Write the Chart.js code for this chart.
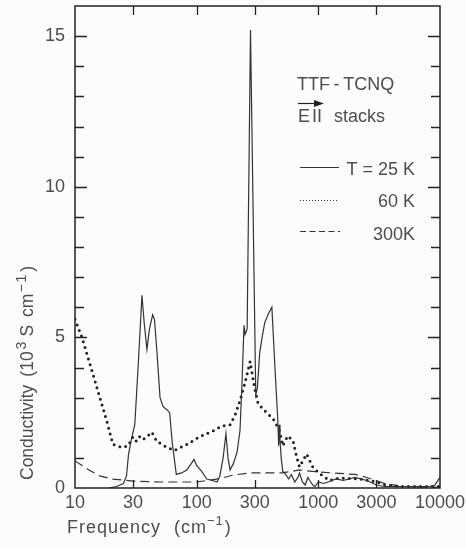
<!DOCTYPE html>
<html>
<head>
<meta charset="utf-8">
<title>TTF-TCNQ conductivity</title>
<script src="https://cdn.jsdelivr.net/npm/chart.js@4/dist/chart.umd.min.js"></script>
<style>
  html, body { margin: 0; padding: 0; background: #fcfcfc; }
  #wrap { width: 466px; height: 548px; }
</style>
</head>
<body>
<div id="wrap"><canvas id="chart" width="466" height="548"></canvas></div>
<script>
/*
  Optical conductivity of TTF-TCNQ, E parallel to the stacks,
  at three temperatures, on a log frequency axis.
*/

// ---- data (frequency in cm-1, conductivity in 10^3 S/cm) ----
const xTicks = [10, 30, 100, 300, 1000, 3000, 10000];
const yTicks = [0, 5, 10, 15];

const freq25 = [19, 22, 25, 26.5, 27.5, 29, 31, 33, 35.5, 37, 39, 41, 43.5, 45, 47, 50, 53, 57, 60, 63,
  68, 75, 83, 90, 95, 100, 110, 121, 135, 147, 155, 165, 174, 181, 188, 200, 215, 227, 236, 245,
  250, 256, 260, 277, 306, 315, 330, 345, 363, 390, 415, 440, 465, 472, 478, 484, 495, 510, 540, 570,
  600, 640, 680, 700, 740, 780, 820, 850, 900, 940, 1000, 1100, 1200, 1400, 1600, 2000, 2500, 3000, 3500, 5000,
  8000, 9000, 10000];
const cond25 = [0, 0.05, 0.15, 0.4, 1.1, 1.6, 2.1, 4.0, 6.4, 5.5, 4.6, 5.3, 5.75, 5.6, 4.6, 3.0, 2.7, 2.6, 2.5, 1.5,
  0.45, 0.5, 0.6, 0.8, 0.95, 0.75, 0.55, 0.3, 0.25, 0.2, 0.4, 1.0, 1.8, 1.0, 0.6, 0.8, 1.2, 1.9, 3.5, 5.4,
  5.1, 5.2, 5.3, 15.2, 3.1, 3.3, 4.5, 5.0, 5.5, 5.8, 6.0, 4.0, 2.2, 1.4, 2.1, 1.6, 1.0, 0.55, 0.45, 0.3,
  0.45, 0.2, 0.35, 0.5, 0.2, 0.1, 0.35, 0.25, 0.1, 0.05, 0.2, 0.15, 0.2, 0.3, 0.25, 0.35, 0.25, 0.1, 0.05, 0.05,
  0.05, 0.08, 0.35];

const freq60 = [10, 11.4, 13.3, 16, 18.3, 20.5, 24.3, 27.3, 30, 32, 34, 36, 39, 42.8, 47, 57, 66, 83, 106, 137,
  160, 188, 206, 227, 250, 275, 300, 320, 376, 425, 480, 510, 560, 620, 660, 700, 800, 900, 1030, 1230,
  1500, 2200, 2800, 3600, 4500, 10000];
const cond60 = [5.6, 5.0, 4.1, 3.0, 2.2, 1.45, 1.35, 1.4, 1.7, 1.55, 1.7, 1.6, 1.7, 1.85, 1.55, 1.35, 1.25, 1.45, 1.7, 1.9,
  2.05, 2.1, 2.4, 2.9, 3.5, 4.2, 3.3, 2.8, 2.5, 2.3, 1.9, 1.4, 1.73, 1.57, 1.07, 0.7, 1.13, 0.7, 0.47, 0.25,
  0.33, 0.3, 0.23, 0.1, 0.05, 0.05];

const freq300 = [10, 13, 16, 20, 30, 50, 100, 150, 200, 275, 400, 500, 600, 700, 900, 1300, 2000, 2500, 3500, 5000, 10000];
const cond300 = [0.9, 0.6, 0.4, 0.3, 0.23, 0.2, 0.2, 0.3, 0.43, 0.5, 0.5, 0.5, 0.55, 0.6, 0.55, 0.5, 0.45, 0.35, 0.15, 0.05, 0.02];

const INK = '#333';
const TEXT = '#4d4d4d';
const FONT = '"Liberation Sans", Arial, sans-serif';

function toPoints(xs, ys) {
  return xs.map((x, i) => ({ x: x, y: ys[i] }));
}

// draws a run of text pieces; [text, isSuperscript, extraGapAfter]
function drawRich(ctx, x, y, parts, size, supSize) {
  let cx = x;
  parts.forEach(([txt, sup, gap]) => {
    ctx.font = (sup ? supSize : size) + 'px ' + FONT;
    ctx.fillText(txt, cx, sup ? y - size * 0.42 : y);
    cx += ctx.measureText(txt).width + (gap || 0);
  });
}

/* -----------------------------
   Frame, inward ticks, titles, legend
------------------------------ */
const decorPlugin = {
  id: 'decor',
  afterDraw(chart) {
    const { ctx, chartArea: ca, scales } = chart;
    const xs = scales.x, ys = scales.y;
    ctx.save();

    // box around the plot
    ctx.strokeStyle = '#222';
    ctx.lineWidth = 1.5;
    ctx.strokeRect(ca.left, ca.top, ca.right - ca.left, ca.bottom - ca.top);

    // y ticks on both sides, every unit, longer at labelled values
    ctx.lineWidth = 1.3;
    for (let v = 1; v < 16; v++) {
      const py = Math.round(ys.getPixelForValue(v)) + 0.5;
      const len = v % 5 === 0 ? 12 : 9;
      ctx.beginPath();
      ctx.moveTo(ca.left, py); ctx.lineTo(ca.left + len, py);
      ctx.moveTo(ca.right, py); ctx.lineTo(ca.right - len, py);
      ctx.stroke();
    }
    // x ticks top and bottom
    xTicks.slice(1, -1).forEach(v => {
      const px = Math.round(xs.getPixelForValue(v)) + 0.5;
      ctx.beginPath();
      ctx.moveTo(px, ca.top); ctx.lineTo(px, ca.top + 9);
      ctx.moveTo(px, ca.bottom); ctx.lineTo(px, ca.bottom - 8);
      ctx.stroke();
    });

    // axis titles
    ctx.fillStyle = TEXT;
    ctx.textAlign = 'left';
    ctx.textBaseline = 'alphabetic';
    ctx.letterSpacing = '1px';
    drawRich(ctx, 67, 533, [['Frequency', false, 13], ['(cm', false, 0], ['\u22121', true, 1], [')', false]], 18, 13);
    ctx.letterSpacing = '0px';

    ctx.save();
    ctx.translate(33, 480);
    ctx.rotate(-Math.PI / 2);
    drawRich(ctx, 0, 0, [['Conductivity', false, 8], ['(10', false, 2], ['3', true, 5], ['S', false, 8],
      ['cm', false, 1], ['\u2212', true, 2], ['1', true, 3], [')', false]], 17.5, 14);
    ctx.restore();

    // sample label and field direction
    ctx.font = '18px ' + FONT;
    ctx.fillText('TTF\u2009-\u2009TCNQ', 297, 90);
    ctx.fillText('E', 298, 122);
    ctx.fillText('II', 312, 122);
    ctx.fillText('stacks', 334, 122);
    ctx.strokeStyle = '#222';
    ctx.fillStyle = '#222';
    ctx.lineWidth = 1.2;
    ctx.beginPath();
    ctx.moveTo(298, 103.5); ctx.lineTo(317, 103.5);
    ctx.stroke();
    ctx.beginPath();
    ctx.moveTo(324, 103.5); ctx.lineTo(314, 100); ctx.lineTo(314, 107);
    ctx.closePath(); ctx.fill();

    // legend
    ctx.fillStyle = TEXT;
    ctx.textAlign = 'right';
    ctx.fillText('T = 25 K', 415, 175);
    ctx.fillText('60 K', 415, 207);
    ctx.fillText('300K', 415, 240);

    ctx.strokeStyle = INK;
    ctx.lineWidth = 1.2;
    ctx.beginPath(); ctx.moveTo(300, 167.5); ctx.lineTo(339, 167.5); ctx.stroke();

    ctx.setLineDash([1, 2]);
    ctx.beginPath(); ctx.moveTo(300, 200.5); ctx.lineTo(338, 200.5); ctx.stroke();

    ctx.setLineDash([6, 3.5]);
    ctx.beginPath(); ctx.moveTo(300, 231.5); ctx.lineTo(340, 231.5); ctx.stroke();

    ctx.restore();
  }
};

/* -----------------------------
   Chart
------------------------------ */
const tickFont = { family: FONT, size: 18 };

new Chart(document.getElementById('chart').getContext('2d'), {
  type: 'line',
  data: {
    datasets: [
      {
        label: 'T = 25 K',
        data: toPoints(freq25, cond25),
        borderColor: INK,
        borderWidth: 1.2,
        pointRadius: 0,
        tension: 0
      },
      {
        label: '60 K',
        data: toPoints(freq60, cond60),
        borderColor: '#222',
        borderWidth: 3,
        borderDash: [0, 6],
        borderCapStyle: 'round',
        pointRadius: 0,
        tension: 0
      },
      {
        label: '300K',
        data: toPoints(freq300, cond300),
        borderColor: INK,
        borderWidth: 1.2,
        borderDash: [9, 5],
        pointRadius: 0,
        tension: 0
      }
    ]
  },
  options: {
    responsive: false,
    animation: false,
    devicePixelRatio: 1,
    layout: { padding: { left: 0, right: 26, top: 6, bottom: 0 } },
    plugins: {
      legend: { display: false },
      tooltip: { enabled: false }
    },
    scales: {
      x: {
        type: 'logarithmic',
        min: 10,
        max: 10000,
        grid: { display: false, drawTicks: false },
        border: { display: false },
        ticks: {
          font: tickFont,
          color: TEXT,
          padding: 4,
          maxRotation: 0,
          autoSkip: false,
          callback: v => String(v)
        },
        afterBuildTicks: s => { s.ticks = xTicks.map(v => ({ value: v })); },
        afterFit: s => { s.height = 60; s.paddingLeft = 0; s.paddingRight = 0; }
      },
      y: {
        type: 'linear',
        min: 0,
        max: 16,
        grid: { display: false, drawTicks: false },
        border: { display: false },
        ticks: {
          font: tickFont,
          color: TEXT,
          padding: 10,
          callback: v => v
        },
        afterBuildTicks: s => { s.ticks = yTicks.map(v => ({ value: v })); },
        afterFit: s => { s.width = 75; s.paddingTop = 0; s.paddingBottom = 0; }
      }
    }
  },
  plugins: [decorPlugin]
});
</script>
</body>
</html>
